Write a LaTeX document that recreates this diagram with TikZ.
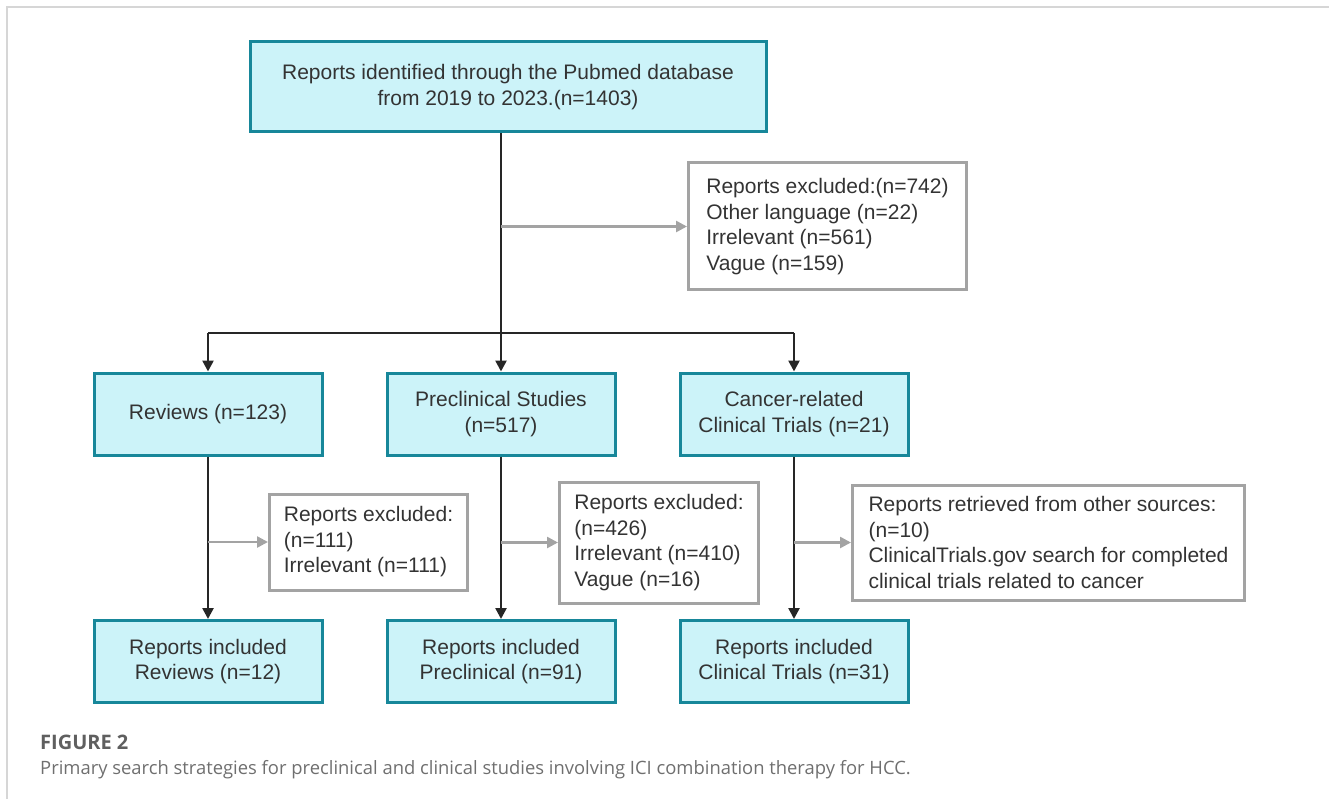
\documentclass[tikz,border=0pt]{standalone}
\usepackage{fontspec}
\setmainfont{Liberation Sans}
\newfontfamily\capfont{Open Sans}
\usetikzlibrary{arrows.meta,calc}
\definecolor{boxfill}{HTML}{CCF3F9}
\definecolor{boxline}{HTML}{17879A}
\definecolor{txtgray}{HTML}{333333}
\definecolor{exline}{HTML}{A3A3A3}
\definecolor{capgray}{HTML}{5F5F5F}
\definecolor{framegray}{HTML}{D6D6D6}
\tikzset{
	mainbox/.style={draw=boxline,fill=boxfill,line width=3pt,text=txtgray,align=center,minimum width=228pt,minimum height=82pt,inner sep=0pt,font=\fontsize{21}{25.5}\selectfont},
	exbox/.style={draw=exline,line width=3pt,text=txtgray,align=left,anchor=west,inner xsep=4pt,inner ysep=0pt,font=\fontsize{21}{25.5}\selectfont},
	mainarrow/.style={line width=2.5pt,draw=black!85,-{Triangle[length=11pt,width=11pt]}},
	exarrow/.style={line width=2.5pt,draw=exline,-{Triangle[length=11pt,width=11pt]}},
	mainline/.style={line width=2.5pt,draw=black!85}
}
\begin{document}
\begin{tikzpicture}[x=1pt,y=-1pt]
	\useasboundingbox (0,0) rectangle (1329,799);
	\draw[framegray,line width=2pt] (7,799) -- (7,7) -- (1329,7);
	\node[mainbox,minimum width=516pt,minimum height=90pt] (pubmed) at (508,87) {Reports identified through the Pubmed database\\from 2019 to 2023.(n=1403)};
	\coordinate (split) at (501,333);
	\node[exbox,minimum width=278pt,minimum height=127pt] (excl) at (687,226.5) {Reports excluded:(n=742)\\Other language (n=22)\\Irrelevant (n=561)\\Vague (n=159)};
	\node[mainbox] (rev) at (208,414) {Reviews (n=123)};
	\node[mainbox] (pre) at (501,414) {Preclinical Studies\\(n=517)};
	\node[mainbox] (clin) at (794,414) {Cancer-related\\Clinical Trials (n=21)};
	\node[mainbox] (revinc) at (208,661.5) {Reports included\\Reviews (n=12)};
	\node[mainbox] (preinc) at (501,661.5) {Reports included\\Preclinical (n=91)};
	\node[mainbox] (clininc) at (794,661.5) {Reports included\\Clinical Trials (n=31)};
	\node[exbox,minimum width=198pt,minimum height=96pt] (revex) at (268,542) {Reports excluded:\\(n=111)\\Irrelevant (n=111)};
	\node[exbox,minimum width=199pt,minimum height=121pt] (preex) at (558,542.5) {Reports excluded:\\(n=426)\\Irrelevant (n=410)\\Vague (n=16)};
	\node[exbox,minimum width=392pt,minimum height=115pt] (clinex) at (851,542.5) {Reports retrieved from other sources:\\(n=10)\\ClinicalTrials.gov search for completed\\clinical trials related to cancer};
	\draw[mainline] (pubmed.south -| split) -- (split);
	\draw[exarrow] (excl.west -| split) -- (excl.west);
	\draw[mainline] (split -| rev.north) -- (split -| clin.north);
	\draw[mainarrow] (split -| rev.north) -- (rev.north);
	\draw[mainarrow] (split) -- (pre.north);
	\draw[mainarrow] (split -| clin.north) -- (clin.north);
	\draw[mainarrow] (rev.south) -- (revinc.north);
	\draw[mainarrow] (pre.south) -- (preinc.north);
	\draw[mainarrow] (clin.south) -- (clininc.north);
	\draw[exarrow] (revex.west -| rev.south) -- (revex.west);
	\draw[exarrow] (preex.west -| pre.south) -- (preex.west);
	\draw[exarrow] (clinex.west -| clin.south) -- (clinex.west);
	\node[anchor=base west,inner sep=0pt,text=capgray,font=\capfont\bfseries\fontsize{20}{22}\selectfont] (figlabel) at (40,749) {FIGURE 2};
	\node[anchor=base west,inner sep=0pt,text=capgray!90,font=\capfont\fontsize{18.4}{20}\selectfont] (figcap) at (40,774) {Primary search strategies for preclinical and clinical studies involving ICI combination therapy for HCC.};
\end{tikzpicture}
\end{document}
